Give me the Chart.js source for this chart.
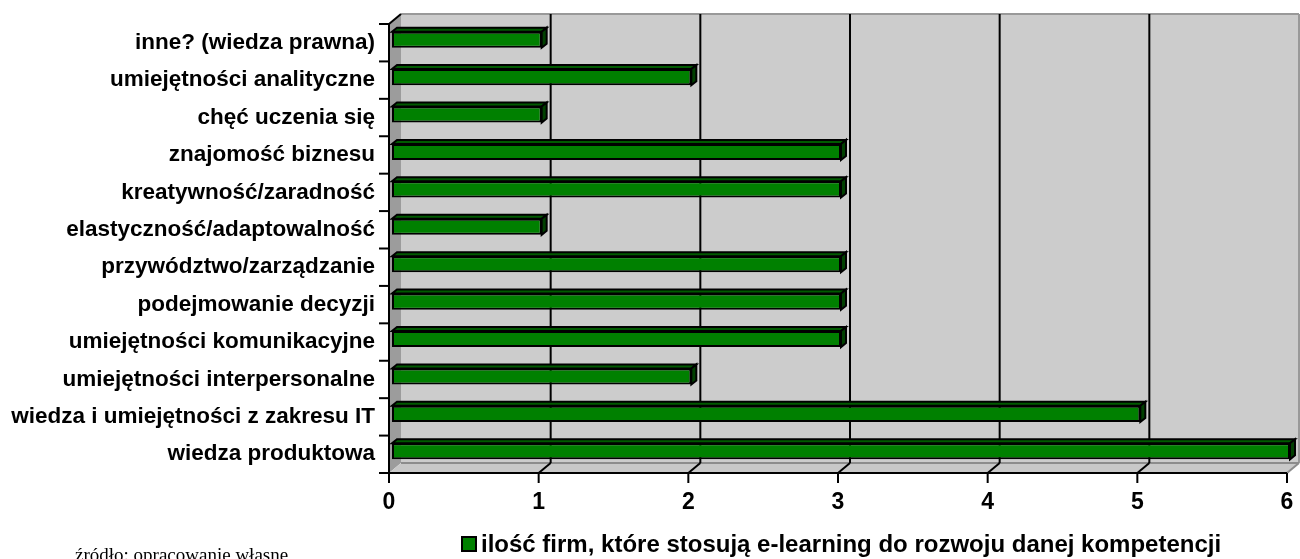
<!DOCTYPE html>
<html>
<head>
<meta charset="utf-8">
<script src="https://cdn.jsdelivr.net/npm/chart.js@4.4.1/dist/chart.umd.min.js"></script>
<style>
  body { margin: 0; background: #fff; }
  #wrap { position: relative; width: 1300px; height: 559px; }
</style>
</head>
<body>
<div id="wrap"><canvas id="myChart" width="1300" height="559"></canvas></div>
<script>
// competences, listed top to bottom
const categories = [
  "inne? (wiedza prawna)",
  "umiejętności analityczne",
  "chęć uczenia się",
  "znajomość biznesu",
  "kreatywność/zaradność",
  "elastyczność/adaptowalność",
  "przywództwo/zarządzanie",
  "podejmowanie decyzji",
  "umiejętności komunikacyjne",
  "umiejętności interpersonalne",
  "wiedza i umiejętności z zakresu IT",
  "wiedza produktowa"
];
const firmCounts = [1, 2, 1, 3, 3, 1, 3, 3, 3, 2, 5, 6];
const xTicks = [0, 1, 2, 3, 4, 5, 6];
const seriesName = "ilość firm, które stosują e-learning do rozwoju danej kompetencji";
const sourceNote = "źródło: opracowanie własne";

const GREEN = "#008000";
const GREEN_TOP = "#005a00";
const GREEN_SIDE = "#004000";

// bars sit a little into the box, walls go further back
const BAR_D = { x: 5, y: -4 };
const WALL_SHIFT = { x: -3, y: 3 };   // front plane relative to bar faces
const WALL_D = { x: 12, y: -10 };     // back wall relative to front plane

function poly(ctx, pts, fill, stroke, lw) {
  ctx.beginPath();
  ctx.moveTo(pts[0][0], pts[0][1]);
  for (let i = 1; i < pts.length; i++) ctx.lineTo(pts[i][0], pts[i][1]);
  ctx.closePath();
  if (fill) { ctx.fillStyle = fill; ctx.fill(); }
  if (stroke) { ctx.strokeStyle = stroke; ctx.lineWidth = lw || 1; ctx.stroke(); }
}

function line(ctx, x1, y1, x2, y2, color, lw) {
  ctx.beginPath();
  ctx.moveTo(x1, y1);
  ctx.lineTo(x2, y2);
  ctx.strokeStyle = color;
  ctx.lineWidth = lw;
  ctx.stroke();
}

const box3d = {
  id: "box3d",
  beforeDatasetsDraw(chart) {
    const ctx = chart.ctx;
    const a = chart.chartArea;
    const xs = chart.scales.x;
    // front plane
    const fl = a.left + WALL_SHIFT.x, fr = a.right + WALL_SHIFT.x;
    const ft = a.top + WALL_SHIFT.y, fb = a.bottom + WALL_SHIFT.y;
    // back plane
    const bl = fl + WALL_D.x, br = fr + WALL_D.x;
    const bt = ft + WALL_D.y, bb = fb + WALL_D.y;
    ctx.save();
    // back wall
    poly(ctx, [[bl, bt], [br, bt], [br, bb], [bl, bb]], "#cccccc");
    line(ctx, bl, bt, br, bt, "#999999", 2);
    line(ctx, br, bt, br, bb, "#999999", 2);
    // side wall
    poly(ctx, [[fl, ft], [bl, bt], [bl, bb], [fl, fb]], "#9c9c9c");
    // floor
    poly(ctx, [[fl, fb], [bl, bb], [br, bb], [fr, fb]], "#c8c8c8");
    line(ctx, bl, bb, br, bb, "#8c8c8c", 2);
    line(ctx, br, bb, fr, fb, "#8c8c8c", 2);
    // grid lines on the back wall and floor
    xTicks.forEach(v => {
      if (v === 0 || v === xTicks[xTicks.length - 1]) return;
      const px = xs.getPixelForValue(v) + WALL_SHIFT.x;
      line(ctx, px + WALL_D.x, bt, px + WALL_D.x, bb, "#000", 2);
      line(ctx, px, fb, px + WALL_D.x, bb, "#000", 2);
    });
    // axes
    line(ctx, fl, ft, fl, fb + 10, "#000", 2);
    line(ctx, fl, ft, bl, bt, "#000", 2);
    line(ctx, fl - 10, fb, fr, fb, "#000", 2);
    xTicks.forEach(v => {
      const px = xs.getPixelForValue(v) + WALL_SHIFT.x;
      line(ctx, px, fb, px, fb + 10, "#000", 2);
    });
    const slot = (a.bottom - a.top) / categories.length;
    for (let i = 0; i <= categories.length; i++) {
      const py = ft + i * slot;
      line(ctx, fl - 10, py, fl, py, "#000", 2);
    }
    ctx.restore();
  },
  afterDatasetsDraw(chart) {
    const ctx = chart.ctx;
    const meta = chart.getDatasetMeta(0);
    ctx.save();
    ctx.lineJoin = "miter";
    meta.data.forEach(bar => {
      const p = bar.getProps(["x", "y", "base", "height"], true);
      const xl = p.base, xr = p.x;
      const yt = p.y - p.height / 2, yb = p.y + p.height / 2;
      poly(ctx, [[xl, yt], [xl + BAR_D.x, yt + BAR_D.y], [xr + BAR_D.x, yt + BAR_D.y], [xr, yt]], GREEN_TOP, "#000", 2);
      poly(ctx, [[xr, yt], [xr + BAR_D.x, yt + BAR_D.y], [xr + BAR_D.x, yb + BAR_D.y], [xr, yb]], GREEN_SIDE, "#000", 2);
    });
    ctx.restore();
  },
  afterDraw(chart) {
    const ctx = chart.ctx;
    const xs = chart.scales.x, ys = chart.scales.y;
    ctx.save();
    ctx.fillStyle = "#000";
    // category labels
    ctx.font = "bold 22.5px 'Liberation Sans', Arial, sans-serif";
    ctx.textAlign = "right";
    ctx.textBaseline = "middle";
    categories.forEach((c, i) => {
      ctx.fillText(c, 375, ys.getPixelForValue(i) + WALL_SHIFT.y);
    });
    // value ticks
    ctx.font = "bold 23px 'Liberation Sans', Arial, sans-serif";
    ctx.textAlign = "center";
    xTicks.forEach(v => {
      ctx.fillText(String(v), xs.getPixelForValue(v) + WALL_SHIFT.x, 503);
    });
    // legend
    ctx.fillStyle = GREEN;
    ctx.fillRect(462, 537, 14, 14);
    ctx.strokeStyle = "#000";
    ctx.lineWidth = 2;
    ctx.strokeRect(462, 537, 14, 14);
    ctx.fillStyle = "#000";
    ctx.font = "bold 24px 'Liberation Sans', Arial, sans-serif";
    ctx.textAlign = "left";
    ctx.textBaseline = "alphabetic";
    ctx.fillText(seriesName, 481, 552);
    // source note
    ctx.font = "19px 'Liberation Serif', 'Times New Roman', serif";
    ctx.fillText(sourceNote, 75, 561);
    ctx.restore();
  }
};

new Chart("myChart", {
  type: "bar",
  data: {
    labels: categories,
    datasets: [{
      label: seriesName,
      data: firmCounts,
      backgroundColor: GREEN,
      borderColor: "#000",
      borderWidth: 2,
      borderSkipped: false,
      barPercentage: 0.43,
      categoryPercentage: 1
    }]
  },
  options: {
    indexAxis: "y",
    responsive: false,
    animation: false,
    devicePixelRatio: 1,
    layout: { padding: { left: 392, right: 10, top: 21, bottom: 89 } },
    scales: {
      x: { display: false, min: 0, max: 6 },
      y: { display: false }
    },
    plugins: {
      legend: { display: false },
      tooltip: { enabled: false }
    }
  },
  plugins: [box3d]
});
</script>
</body>
</html>
